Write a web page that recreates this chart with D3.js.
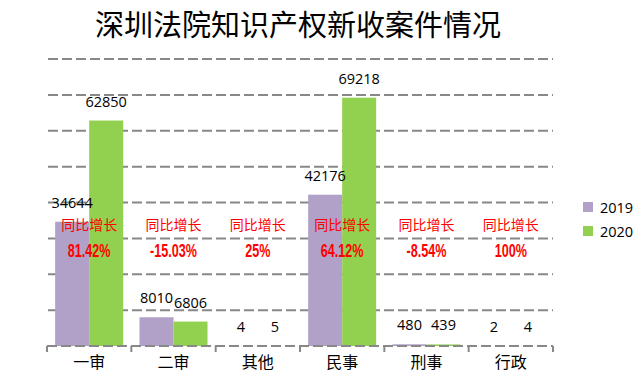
<!DOCTYPE html>
<html><head><meta charset="utf-8">
<script src="https://cdn.jsdelivr.net/npm/d3@7"></script>
<style>body{margin:0;background:#fff}</style>
</head><body>
<svg id="c" width="641" height="384"></svg>
<script>
const title = "深圳法院知识产权新收案件情况";
const categories = ["一审","二审","其他","民事","刑事","行政"];
const series = ["2019","2020"];
const values2019 = [34644, 8010, 4, 42176, 480, 2];
const values2020 = [62850, 6806, 5, 69218, 439, 4];
const growthLabel = "同比增长";
const growth = ["81.42%","-15.03%","25%","64.12%","-8.54%","100%"];
const yTicks = [0,10000,20000,30000,40000,50000,60000,70000,80000];
const colors = ["#B1A0C7","#92D050"];

const svg = d3.select("#c");
const x = d3.scaleBand().domain(categories).range([47, 553]).paddingInner(0).paddingOuter(0);
const inner = d3.scaleBand().domain(series).range([0, x.bandwidth()]).paddingInner(0).paddingOuter(0.24);
const y = d3.scaleLinear().domain([0, 80000]).range([346, 59]);

svg.append("text").attr("x", 298).attr("y", 36).attr("text-anchor","middle")
  .attr("font-family","'Noto Sans CJK SC'").attr("font-size", 29).attr("fill","#000").text(title);

// grid
svg.append("g").selectAll("line").data(yTicks.filter(d=>d>0)).join("line")
  .attr("x1", 48).attr("x2", 553).attr("y1", d=>y(d)).attr("y2", d=>y(d))
  .attr("stroke","#888").attr("stroke-width",2).attr("stroke-dasharray","10,4");

const data = categories.map((c,i)=>({c, v:[values2019[i], values2020[i]], g:growth[i]}));

const grp = svg.append("g").selectAll("g").data(data).join("g")
  .attr("transform", d=>`translate(${x(d.c)},0)`);

grp.selectAll("rect").data(d=>d.v.map((v,j)=>({v, s:series[j], j}))).join("rect")
  .attr("x", d=>inner(d.s)).attr("width", inner.bandwidth())
  .attr("y", d=>y(d.v)).attr("height", d=>y(0)-y(d.v)).attr("fill", d=>colors[d.j]);

grp.selectAll("text.val").data(d=>d.v.map((v,j)=>({v, s:series[j]}))).join("text")
  .attr("class","val").attr("x", d=>inner(d.s)+inner.bandwidth()/2).attr("y", d=>y(d.v)-14)
  .attr("text-anchor","middle").attr("font-family","'Open Sans', 'DejaVu Sans'").attr("font-size",14.5)
  .attr("fill","#000").text(d=>d.v);

grp.append("text").attr("x", x.bandwidth()/2).attr("y", 230).attr("text-anchor","middle")
  .attr("font-family","'Noto Sans CJK SC'").attr("font-size",14).attr("fill","#f00").text(growthLabel);
grp.append("text").attr("transform", `translate(${x.bandwidth()/2},257) scale(0.7,1)`).attr("text-anchor","middle")
  .attr("font-family","'Liberation Sans', 'Roboto', sans-serif").attr("font-weight","bold")
  .attr("font-size",18).attr("fill","#f00").text(d=>d.g);

// x axis
const xa = svg.append("g").attr("transform",`translate(0,${y(0)})`).call(d3.axisBottom(x).tickSize(0).tickPadding(11));
xa.select(".domain").remove();
xa.selectAll("text").attr("font-family","'Noto Sans CJK SC'").attr("font-size",16).attr("fill","#000");
svg.append("line").attr("x1",47).attr("x2",553).attr("y1",y(0)).attr("y2",y(0))
  .attr("stroke","#888").attr("stroke-width",2).attr("stroke-dasharray","10,4");
svg.append("g").selectAll("line").data(d3.range(categories.length+1)).join("line")
  .attr("x1", i=>47 + i*x.bandwidth()).attr("x2", i=>47 + i*x.bandwidth())
  .attr("y1", y(0)).attr("y2", y(0)+6).attr("stroke","#888").attr("stroke-width",2);

// legend
const lg = svg.append("g").selectAll("g").data(series).join("g")
  .attr("transform",(d,i)=>`translate(583,${202+i*24})`);
lg.append("rect").attr("width",10).attr("height",10).attr("fill",(d,i)=>colors[i]);
lg.append("text").attr("x",17).attr("y",10.5).attr("font-family","'Open Sans', 'DejaVu Sans'").attr("font-size",14.5).attr("fill","#000").text(d=>d);
</script>
</body></html>
